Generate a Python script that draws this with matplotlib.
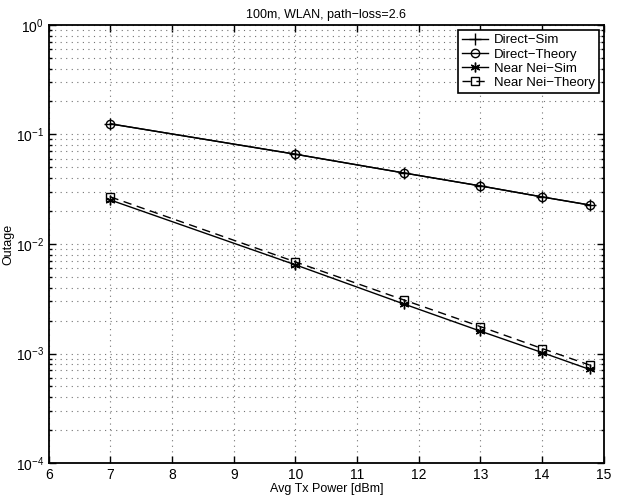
import matplotlib.pyplot as plt
from matplotlib.ticker import LogLocator, NullFormatter

plt.rcParams['font.family'] = ['Liberation Sans', 'DejaVu Sans']

# Data
tx_power = [7, 10, 11.76, 13, 14, 14.77]
direct_sim = [0.125, 0.066, 0.0445, 0.0339, 0.0269, 0.0227]
direct_theory = [0.125, 0.066, 0.0445, 0.0339, 0.0269, 0.0227]
near_sim = [0.0252, 0.00645, 0.00283, 0.0016, 0.00102, 0.000716]
near_theory = [0.0269, 0.00686, 0.00308, 0.00176, 0.00111, 0.000785]

fig = plt.figure(figsize=(6.18, 4.95), dpi=100)
ax = fig.add_axes([0.079, 0.0646, 0.898, 0.885])

ax.semilogy(tx_power, direct_sim, 'k-', marker='+', markersize=8, linewidth=1, label='Direct\u2212Sim')
ax.semilogy(tx_power, direct_theory, 'k-', marker='o', markersize=6, markerfacecolor='none',
            linewidth=1, label='Direct\u2212Theory')
ax.semilogy(tx_power, near_sim, 'k-', marker=(6, 2, 0), markersize=7, linewidth=1, label='Near Nei\u2212Sim')
ax.semilogy(tx_power, near_theory, 'k--', marker='s', markersize=5.5, markerfacecolor='none',
            linewidth=1, dashes=(6, 4), label='Near Nei\u2212Theory')

ax.set_xlim(6, 15)
ax.set_ylim(1e-4, 1)
ax.set_xticks(range(6, 16))
ax.yaxis.set_major_locator(LogLocator(base=10, numticks=10))
ax.yaxis.set_minor_locator(LogLocator(base=10, subs=range(2, 10), numticks=10))
ax.yaxis.set_minor_formatter(NullFormatter())

ax.grid(True, which='major', linestyle=(0, (1, 4)), color='0.45', linewidth=0.8)
ax.grid(True, which='minor', axis='y', linestyle=(0, (1, 4)), color='0.45', linewidth=0.8)
ax.tick_params(which='both', direction='in', top=True, right=True, labelsize=10, width=1)
ax.tick_params(which='major', length=5)
ax.tick_params(which='minor', length=2.5)
for s in ax.spines.values():
    s.set_linewidth(1.3)

ax.set_xlabel('Avg Tx Power [dBm]', fontsize=9, labelpad=1)
ax.set_ylabel('Outage', fontsize=9, labelpad=1)
ax.set_title('100m, WLAN, path\u2212loss=2.6', fontsize=9, pad=5)

leg = ax.legend(loc='upper right', fontsize=9.5, frameon=True, fancybox=False,
                edgecolor='black', handlelength=2.0, borderaxespad=0.4,
                labelspacing=0.15, handletextpad=0.4, borderpad=0.3)
leg.get_frame().set_linewidth(1.2)
leg.get_frame().set_alpha(1)

fig.savefig('out.png', dpi=100)
